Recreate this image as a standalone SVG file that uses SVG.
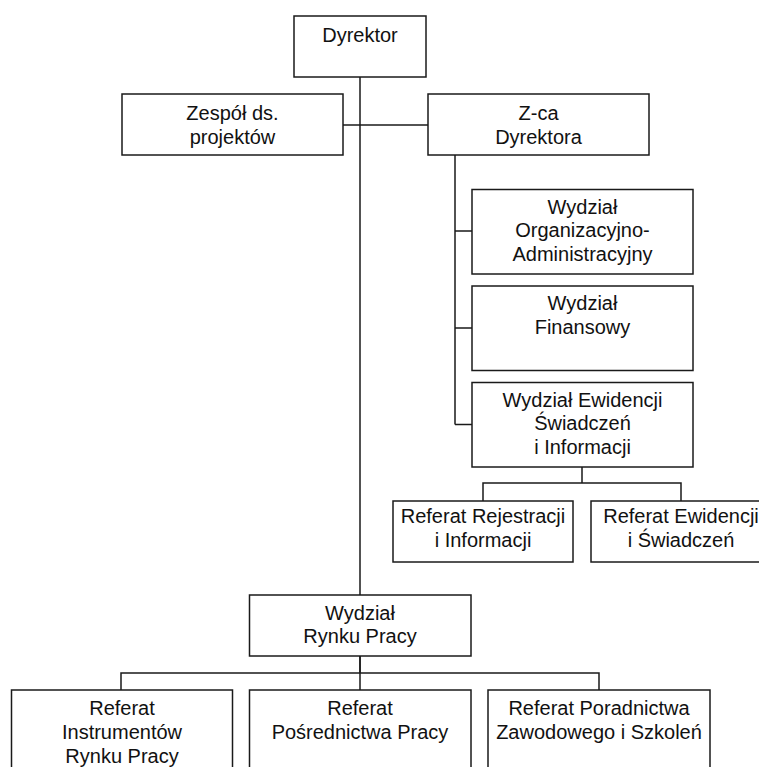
<svg xmlns="http://www.w3.org/2000/svg" width="759" height="767" viewBox="0 0 759 767">
<style>
  .box { fill: #fff; stroke: #1a1a1a; stroke-width: 1.5; }
  .conn { fill: none; stroke: #1a1a1a; stroke-width: 1.5; }
  text { font-family: "Liberation Sans", Arial, sans-serif; font-size: 20px; fill: #111; text-anchor: middle; }
</style>
<rect width="759" height="767" fill="#fff"/>
<g id="connectors">
  <path class="conn" d="M360 77 V595 M360 656 V690"/>
  <path class="conn" d="M343 125 H428"/>
  <path class="conn" d="M455 155 V424.5 M455 231 H472 M455 328 H472 M455 424.5 H472"/>
  <path class="conn" d="M582 467 V483 M483 501 V483 H681 V501"/>
  <path class="conn" d="M360 656 V673 M121 690 V673 H599 V690"/>
</g>
<g id="dyrektor">
  <rect class="box" x="294" y="16" width="132" height="61"/>
  <text x="360" y="42">Dyrektor</text>
</g>
<g id="zespol">
  <rect class="box" x="122" y="94" width="221" height="61"/>
  <text x="232.5" y="120">Zespół ds.</text>
  <text x="232.5" y="143.5">projektów</text>
</g>
<g id="zca">
  <rect class="box" x="428" y="94" width="221" height="61"/>
  <text x="538.5" y="120">Z-ca</text>
  <text x="538.5" y="143.5">Dyrektora</text>
</g>
<g id="wydzial-org">
  <rect class="box" x="472" y="189.5" width="221" height="84.5"/>
  <text x="582.5" y="213.5">Wydział</text>
  <text x="582.5" y="237">Organizacyjno-</text>
  <text x="582.5" y="260.5">Administracyjny</text>
</g>
<g id="wydzial-fin">
  <rect class="box" x="472" y="286" width="221" height="84.5"/>
  <text x="582.5" y="310">Wydział</text>
  <text x="582.5" y="333.5">Finansowy</text>
</g>
<g id="wydzial-ewid">
  <rect class="box" x="472" y="382.5" width="221" height="84.5"/>
  <text x="582.5" y="406.5">Wydział Ewidencji</text>
  <text x="582.5" y="430">Świadczeń</text>
  <text x="582.5" y="453.5">i Informacji</text>
</g>
<g id="ref-rejestracji">
  <rect class="box" x="393" y="501" width="180" height="61"/>
  <text x="483" y="523">Referat Rejestracji</text>
  <text x="483" y="546.5">i Informacji</text>
</g>
<g id="ref-ewidencji">
  <rect class="box" x="591" y="501" width="180" height="61"/>
  <text x="681" y="523">Referat Ewidencji</text>
  <text x="681" y="546.5">i Świadczeń</text>
</g>
<g id="wydzial-rynku">
  <rect class="box" x="249.5" y="595" width="221.5" height="61"/>
  <text x="360" y="619.5">Wydział</text>
  <text x="360" y="643">Rynku Pracy</text>
</g>
<g id="ref-instrumentow">
  <rect class="box" x="11.5" y="690" width="221" height="95"/>
  <text x="122" y="715">Referat</text>
  <text x="122" y="739">Instrumentów</text>
  <text x="122" y="762.5">Rynku Pracy</text>
</g>
<g id="ref-posrednictwa">
  <rect class="box" x="249.5" y="690" width="221.5" height="95"/>
  <text x="360" y="715">Referat</text>
  <text x="360" y="739">Pośrednictwa Pracy</text>
</g>
<g id="ref-poradnictwa">
  <rect class="box" x="488" y="690" width="222" height="95"/>
  <text x="599" y="715">Referat Poradnictwa</text>
  <text x="599" y="739">Zawodowego i Szkoleń</text>
</g>
</svg>
